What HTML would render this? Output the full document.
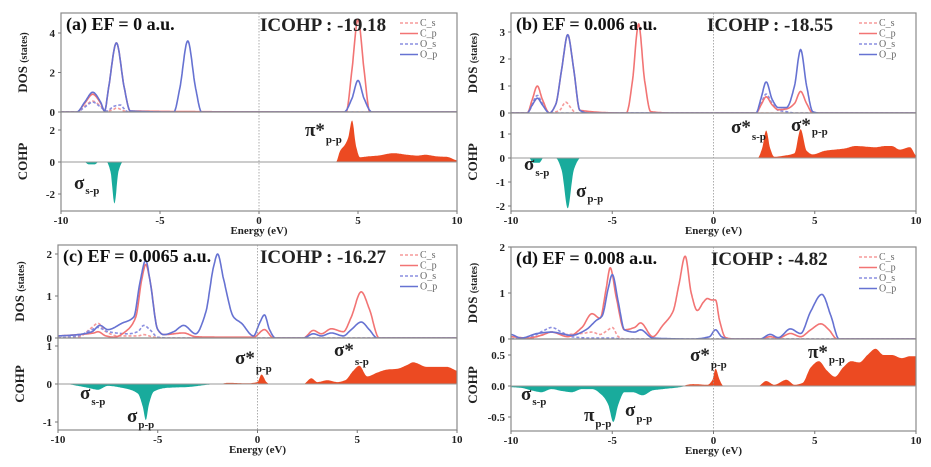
<!DOCTYPE html>
<html><head><meta charset="utf-8"><style>
body{margin:0;background:#fff;}
svg{display:block;font-family:"Liberation Serif",serif;}
</style></head><body>
<svg id="fig" width="931" height="467" viewBox="0 0 931 467" xmlns="http://www.w3.org/2000/svg"></svg>
<script>
// ---------- data (energy eV, value) ----------
const aCs=[[-10,0],[-9.2,0],[-8.8,0.3],[-8.4,0.55],[-8.0,0.3],[-7.7,0.05],[-7.4,0.1],[-7.2,0.2],[-6.8,0.05],[-6.5,0],[10,0]];
const aCp=[[-10,0],[-9.2,0],[-8.8,0.45],[-8.4,0.9],[-8.0,0.45],[-7.8,0.05],[-7.6,1.2],[-7.2,3.5],[-6.8,1.2],[-6.5,0.05],[4.4,0],[4.7,2.2],[5.0,4.7],[5.3,2.2],[5.6,0],[10,0]];
const aOs=[[-10,0],[-9.2,0],[-8.8,0.25],[-8.4,0.5],[-8.0,0.25],[-7.7,0.05],[-7.3,0.3],[-7.0,0.35],[-6.8,0.15],[-6.6,0],[10,0]];
const aOp=[[-10,0],[-9.2,0],[-8.8,0.5],[-8.4,1.0],[-8.0,0.5],[-7.8,0.05],[-7.6,1.2],[-7.2,3.5],[-6.8,1.2],[-6.5,0.05],[-4.3,0],[-4.0,1.2],[-3.6,3.6],[-3.2,1.2],[-2.9,0],[4.3,0],[4.7,0.7],[5.0,1.6],[5.3,0.7],[5.7,0],[10,0]];
const aNeg=[[-8.8,0],[-8.6,-0.15],[-8.3,-0.15],[-8.1,0],[-7.7,0],[-7.5,-0.6],[-7.3,-2.6],[-7.1,-0.6],[-6.9,0]];
const aPos=[[3.9,0],[4.1,0.7],[4.35,1.1],[4.5,1.5],[4.7,2.6],[4.9,1.0],[5.1,0.3],[5.5,0.35],[6.0,0.4],[6.8,0.55],[7.5,0.45],[8.0,0.4],[8.4,0.45],[9.0,0.35],[9.5,0.32],[10,0.1]];

const bCs=[[-10,0],[-9.2,0],[-8.9,0.35],[-8.7,0.55],[-8.4,0.3],[-8.1,0],[-7.6,0.1],[-7.3,0.4],[-7.0,0.15],[-6.8,0],[10,0]];
const bCp=[[-10,0],[-9.2,0],[-8.95,0.5],[-8.7,1.0],[-8.45,0.5],[-8.1,0],[-7.8,0.3],[-7.5,1.6],[-7.2,2.9],[-6.9,1.6],[-6.6,0.1],[-4.3,0],[-4.0,1.2],[-3.7,3.3],[-3.4,1.2],[-3.1,0.05],[-2,0],[2.1,0],[2.35,0.3],[2.6,0.6],[2.9,0.3],[3.2,0.12],[3.6,0.15],[4.0,0.35],[4.3,0.8],[4.6,0.35],[4.9,0],[10,0]];
const bOs=[[-10,0],[-9.2,0],[-8.95,0.35],[-8.7,0.65],[-8.45,0.35],[-8.1,0],[2.1,0],[2.35,0.35],[2.6,0.7],[2.9,0.35],[3.2,0.1],[3.6,0.05],[4.0,0],[10,0]];
const bOp=[[-10,0],[-9.2,0],[-8.95,0.3],[-8.7,0.55],[-8.45,0.3],[-8.1,0],[-7.8,0.3],[-7.5,1.6],[-7.2,2.9],[-6.9,1.6],[-6.6,0.1],[-6.2,0],[2.1,0],[2.35,0.55],[2.6,1.15],[2.9,0.5],[3.2,0.2],[3.6,0.2],[4.0,1.0],[4.3,2.35],[4.6,1.0],[4.9,0.05],[5.2,0],[10,0]];
const bNeg=[[-9.1,0],[-8.9,-0.2],[-8.6,-0.2],[-8.4,0],[-7.8,0],[-7.5,-0.5],[-7.2,-2.1],[-6.9,-0.5],[-6.6,0]];
const bPos=[[2.2,0],[2.4,0.4],[2.6,1.15],[2.8,0.4],[3.0,0.05],[3.5,0.1],[4.0,0.2],[4.3,1.2],[4.6,0.3],[4.9,0.15],[5.5,0.3],[6.5,0.4],[7.0,0.5],[8.0,0.45],[8.5,0.5],[8.8,0.5],[9.2,0.35],[9.7,0.45],[10,0.1]];

const cCs=[[-10,0],[-9,0.02],[-8.3,0.25],[-8.0,0.35],[-7.6,0.15],[-7,0.05],[-6,0.05],[-5.7,0.08],[-5.2,0.02],[-4.5,0],[10,0]];
const cCp=[[-10,0.05],[-9,0.08],[-8.2,0.12],[-8.0,0.15],[-7.6,0.05],[-7.2,0.02],[-6.5,0.2],[-6.1,0.5],[-5.8,1.4],[-5.6,1.75],[-5.4,1.4],[-5.0,0.2],[-4.7,0.08],[-3.7,0.12],[-3.1,0.03],[-2,0.02],[-0.2,0.02],[0.35,0.2],[0.8,0],[2.3,0],[2.8,0.18],[3.2,0.1],[3.7,0.22],[4.3,0.15],[4.7,0.5],[5.2,1.1],[5.6,0.7],[6.1,0],[10,0]];
const cOs=[[-10,0],[-9,0.05],[-8.3,0.2],[-8.0,0.25],[-7.5,0.15],[-6.5,0.1],[-6.0,0.15],[-5.7,0.3],[-5.4,0.2],[-5.0,0.02],[-4.5,0],[10,0]];
const cOp=[[-10,0.05],[-9,0.08],[-8.3,0.15],[-7.9,0.3],[-7.5,0.2],[-6.8,0.35],[-6.2,0.5],[-5.9,1.3],[-5.6,1.85],[-5.4,1.4],[-5.0,0.2],[-4.7,0.08],[-4.2,0.15],[-3.7,0.3],[-3.1,0.1],[-2.6,0.6],[-2.2,1.7],[-2.0,2.0],[-1.7,1.4],[-1.2,0.5],[-0.8,0.35],[-0.2,0.05],[0.1,0.35],[0.35,0.55],[0.6,0.2],[0.9,0],[2.3,0],[2.8,0.1],[3.2,0.05],[3.7,0.12],[4.3,0.05],[4.7,0.2],[5.2,0.38],[5.6,0.2],[6.0,0],[10,0]];
const cNeg=[[-9.6,0],[-9,-0.05],[-8.5,-0.1],[-8,-0.15],[-7.5,-0.05],[-6.8,-0.1],[-6.0,-0.25],[-5.75,-0.6],[-5.6,-0.95],[-5.45,-0.55],[-5.2,-0.2],[-4.5,-0.1],[-3.5,-0.08],[-2.5,-0.02],[-2.0,0]];
const cPos=[[-1.9,0],[-1.5,0.03],[-0.5,0.02],[0,0.05],[0.2,0.25],[0.45,0.05],[0.6,0],[2.3,0],[2.7,0.15],[3.0,0.05],[3.5,0.1],[4.0,0.05],[4.4,0.1],[4.8,0.35],[5.1,0.48],[5.5,0.2],[6.0,0.3],[6.5,0.38],[7.0,0.4],[7.5,0.5],[7.8,0.57],[8.5,0.45],[9.0,0.45],[9.5,0.45],[10,0.35]];

const dCs=[[-10,0],[-9,0.02],[-8.4,0.1],[-8.0,0.15],[-7.3,0.1],[-6.5,0.12],[-6.0,0.15],[-5.6,0.1],[-5.2,0.2],[-5.0,0.25],[-4.7,0.05],[-4.4,0],[10,0]];
const dCp=[[-10,0.05],[-9.2,0.02],[-8.5,0.08],[-8.0,0.15],[-7.2,0.05],[-6.5,0.25],[-6.0,0.55],[-5.6,0.45],[-5.3,1.1],[-5.1,1.55],[-4.8,0.9],[-4.4,0.2],[-3.9,0.25],[-3.6,0.35],[-3.0,0.05],[-2.5,0.3],[-2.0,0.6],[-1.7,1.2],[-1.4,1.8],[-1.1,1.0],[-0.8,0.62],[-0.5,0.8],[-0.3,0.88],[-0.1,0.85],[0.1,0.85],[0.3,0.4],[0.6,0.03],[1,0],[2.3,0],[2.8,0.05],[3.2,0.02],[3.8,0.12],[4.3,0.05],[4.8,0.2],[5.3,0.33],[5.7,0.2],[6.1,0],[10,0]];
const dOs=[[-10,0],[-9,0.05],[-8.4,0.18],[-8.0,0.25],[-7.5,0.15],[-7.0,0.05],[-6.0,0.02],[-5.0,0.02],[-4.5,0],[10,0]];
const dOp=[[-10,0.1],[-9.5,0.02],[-8.7,0.12],[-8.0,0.15],[-7.0,0.08],[-6.3,0.2],[-5.8,0.4],[-5.5,0.5],[-5.2,1.1],[-5.0,1.4],[-4.7,0.8],[-4.4,0.2],[-3.9,0.15],[-3.6,0.2],[-3.0,0.02],[-1.0,0],[-0.2,0.05],[0.1,0.2],[0.4,0.05],[0.7,0],[2.3,0],[2.8,0.1],[3.2,0.03],[3.8,0.22],[4.3,0.12],[4.8,0.6],[5.35,0.97],[5.8,0.5],[6.2,0],[10,0]];
const dNeg=[[-10,-0.02],[-9.5,-0.03],[-9,-0.07],[-8.5,-0.1],[-8,-0.05],[-7.5,-0.08],[-7,-0.1],[-6.5,-0.05],[-6,-0.05],[-5.5,-0.15],[-5.2,-0.3],[-4.95,-0.58],[-4.7,-0.3],[-4.4,-0.1],[-4,-0.1],[-3.5,-0.15],[-3.0,-0.07],[-2.5,-0.05],[-1.5,-0.01],[-1.4,0]];
const dPos=[[-1.5,0],[-1.3,0.02],[-1,0.03],[-0.3,0.02],[-0.05,0.1],[0.1,0.28],[0.3,0.1],[0.5,0],[2.2,0],[2.6,0.08],[3.0,0.02],[3.6,0.1],[4.0,0.02],[4.4,0.05],[4.8,0.3],[5.2,0.4],[5.6,0.25],[6.0,0.15],[6.4,0.3],[6.8,0.4],[7.2,0.38],[7.6,0.5],[8.0,0.6],[8.4,0.5],[8.8,0.5],[9.3,0.45],[9.7,0.48],[10,0.48]];

const xTicks=[-10,-5,0,5,10];
const aDosTicks=[0,2,4], aCohpTicks=[-2,0,2];
const bDosTicks=[0,1,2,3], bCohpTicks=[-2,-1,0,1];
const cDosTicks=[0,1,2], cCohpTicks=[-1,0,1];
const dDosTicks=[0,1,2], dCohpTicks=[-0.5,0,0.5];

const NS="http://www.w3.org/2000/svg";
const svg=document.getElementById('fig');
function el(tag,attrs,parent){const e=document.createElementNS(NS,tag);for(const k in attrs)e.setAttribute(k,attrs[k]);(parent||svg).appendChild(e);return e;}
// monotone cubic (PCHIP) sampling in data space -> no overshoot
function sample(pts){
 const n=pts.length,xs=pts.map(p=>p[0]),ys=pts.map(p=>p[1]);
 const h=[],dl=[];for(let i=0;i<n-1;i++){h.push(xs[i+1]-xs[i]);dl.push((ys[i+1]-ys[i])/h[i]);}
 const m=new Array(n).fill(0);
 for(let i=1;i<n-1;i++){if(dl[i-1]*dl[i]>0){const w1=2*h[i]+h[i-1],w2=h[i]+2*h[i-1];m[i]=(w1+w2)/(w1/dl[i-1]+w2/dl[i]);}}
 m[0]=n>1?dl[0]*0.5:0;m[n-1]=n>1?dl[n-2]*0.5:0;
 const out=[];
 for(let i=0;i<n-1;i++){const steps=Math.max(2,Math.ceil(h[i]/0.03));
  for(let k=0;k<steps;k++){const t=k/steps,t2=t*t,t3=t2*t;
   const y=(2*t3-3*t2+1)*ys[i]+(t3-2*t2+t)*h[i]*m[i]+(-2*t3+3*t2)*ys[i+1]+(t3-t2)*h[i]*m[i+1];
   out.push([xs[i]+t*h[i],y]);}}
 out.push([xs[n-1],ys[n-1]]);return out;}
function pathD(pts){return pts.map((p,i)=>(i?'L':'M')+p[0].toFixed(1)+','+p[1].toFixed(1)).join('');}

function panel(p){
 const g=el('g',{});
 
 
 const X=e=>p.x0+(e+10)/20*(p.x1-p.x0);
 const YD=v=>p.d0-v*p.dPx, YC=v=>p.c0-v*p.cPx;
 const series=[[p.cs,'#f59a9a','3,2','c-s'],[p.os,'#8a8ee0','3,2','o-s'],[p.cp,'#f27474',null,'c-p'],[p.op,'#6672d2',null,'o-p']];
 const clip='clip'+p.id;
 const cp=el('clipPath',{id:clip},g);el('rect',{x:p.x0,y:p.top,width:p.x1-p.x0,height:p.d0-p.top},cp);
 series.forEach(s=>{const a={d:pathD(sample(s[0]).map(q=>[X(q[0]),YD(q[1])])),fill:'none',stroke:s[1],'stroke-width':1.6,'stroke-linejoin':'round','clip-path':'url(#'+clip+')'};if(s[2])a['stroke-dasharray']=s[2];
  const pth=el('path',a,g);
  
  });
 [[p.neg,'#19ab9c','cohp-bonding-fill'],[p.pos,'#ec4a22','cohp-antibonding-fill']].forEach(f=>{
  const pts=sample(f[0]).map(q=>[X(q[0]),YC(q[1])]);
  const d=pathD(pts)+'L'+pts[pts.length-1][0].toFixed(1)+','+p.c0+'L'+pts[0][0].toFixed(1)+','+p.c0+'Z';
  const pth=el('path',{d:d,fill:f[1]},g);
  
  });
 el('rect',{x:p.x0,y:p.top,width:p.x1-p.x0,height:p.bottom-p.top,fill:'none',stroke:'#8a8a8a','stroke-width':1.2},g);
 el('line',{x1:p.x0,x2:p.x1,y1:p.d0,y2:p.d0,stroke:'#8a8a8a','stroke-width':1.2},g);
 el('line',{x1:p.x0,x2:p.x1,y1:p.c0,y2:p.c0,stroke:'#999','stroke-width':1},g);
 el('line',{x1:X(0),x2:X(0),y1:p.top,y2:p.bottom,stroke:'#999','stroke-width':0.8,'stroke-dasharray':'1.5,1.5'},g);
 xTicks.forEach(t=>{el('line',{x1:X(t),x2:X(t),y1:p.bottom,y2:p.bottom+3,stroke:'#777'},g);
  const tx=el('text',{x:X(t),y:p.bottom+13,'font-size':11,'font-weight':'bold','text-anchor':'middle',fill:'#222'},g);tx.textContent=t;
  });
 const xt=el('text',{x:(p.x0+p.x1)/2,y:p.bottom+23,'font-size':11,'font-weight':'bold','text-anchor':'middle',fill:'#222'},g);xt.textContent='Energy  (eV)';
 
 p.dT.forEach(t=>{el('line',{x1:p.x0-3,x2:p.x0,y1:YD(t),y2:YD(t),stroke:'#777'},g);
  const tx=el('text',{x:p.x0-6,y:YD(t)+4,'font-size':11,'font-weight':'bold','text-anchor':'end',fill:'#222'},g);tx.textContent=t;
  });
 p.cT.forEach(t=>{el('line',{x1:p.x0-3,x2:p.x0,y1:YC(t),y2:YC(t),stroke:'#777'},g);
  const tx=el('text',{x:p.x0-6,y:YC(t)+4,'font-size':11,'font-weight':'bold','text-anchor':'end',fill:'#222'},g);tx.textContent=p.fmt?t.toFixed(1):t;
  });
 const yl=el('text',{transform:'translate('+(p.x0-34)+','+((p.top+p.d0)/2)+') rotate(-90)','font-size':13,'font-weight':'bold','text-anchor':'middle',fill:'#222'},g);
 yl.innerHTML='DOS <tspan font-size="10">(states)</tspan>';
 
 const cl=el('text',{transform:'translate('+(p.x0-34)+','+((p.d0+p.bottom)/2)+') rotate(-90)','font-size':13,'font-weight':'bold','text-anchor':'middle',fill:'#222'},g);cl.textContent='COHP';
 
 const t1=el('text',{x:p.x0+5,y:p.top+17,'font-size':18,'font-weight':'bold',fill:'#111'},g);t1.textContent=p.title;
 
 const t2=el('text',{x:p.x0+p.icx,y:p.top+18,'font-size':19,'font-weight':'bold',fill:'#222'},g);t2.textContent='ICOHP : '+p.icohp;
 
 [['C_s','#f59a9a',1],['C_p','#f27474',0],['O_s','#8a8ee0',1],['O_p','#6672d2',0]].forEach((L,i)=>{
  const lg=el('g',{},g);
  const y=p.top+10+i*10.5;const a={x1:p.x1-57,x2:p.x1-39,y1:y,y2:y,stroke:L[1],'stroke-width':1.4};if(L[2])a['stroke-dasharray']='3,2';el('line',a,lg);
  const tx=el('text',{x:p.x1-37,y:y+3,'font-size':10,fill:'#666'},lg);tx.textContent=L[0];});
 p.ann.forEach(a=>{const tx=el('text',{x:a[0],y:a[1],'font-size':19,'font-weight':'bold',fill:'#222'},g);
  tx.innerHTML=a[2]+'<tspan font-size="11" dx="1" dy="'+a[4]+'">'+a[3]+'</tspan>';
  });
}
panel({id:'a',x0:61,x1:457,top:13,d0:112,dPx:19.75,c0:162,cPx:16,bottom:211,cs:aCs,cp:aCp,os:aOs,op:aOp,neg:aNeg,pos:aPos,dT:aDosTicks,cT:aCohpTicks,title:'(a) EF = 0 a.u.',icx:199,icohp:'-19.18',
 ann:[[305,136,'π*','p-p',7],[74,189,'σ','s-p',5]]});
panel({id:'b',x0:511,x1:916,top:13,d0:113,dPx:27,c0:158,cPx:24,bottom:211,cs:bCs,cp:bCp,os:bOs,op:bOp,neg:bNeg,pos:bPos,dT:bDosTicks,cT:bCohpTicks,title:'(b) EF = 0.006 a.u.',icx:196,icohp:'-18.55',
 ann:[[731,133,'σ*','s-p',7],[791,131,'σ*','p-p',4],[524,170,'σ','s-p',6],[576,197,'σ','p-p',5]]});
panel({id:'c',x0:58,x1:457,top:245,d0:338,dPx:42,c0:384,cPx:38,bottom:430,cs:cCs,cp:cCp,os:cOs,op:cOp,neg:cNeg,pos:cPos,dT:cDosTicks,cT:cCohpTicks,title:'(c) EF = 0.0065 a.u.',icx:202,icohp:'-16.27',
 ann:[[235,364,'σ*','p-p',8],[334,356,'σ*','s-p',9],[80,399,'σ','s-p',6],[127,422,'σ','p-p',6]]});
panel({id:'d',x0:511,x1:916,top:247,d0:339,dPx:46,c0:386,cPx:62,bottom:431,cs:dCs,cp:dCp,os:dOs,op:dOp,neg:dNeg,pos:dPos,dT:dDosTicks,cT:dCohpTicks,fmt:1,title:'(d)  EF = 0.008 a.u.',icx:200,icohp:'-4.82',
 ann:[[690,361,'σ*','p-p',7],[808,358,'π*','p-p',5],[521,400,'σ','s-p',5],[584,421,'π','p-p',6],[625,416,'σ','p-p',6]]});
</script>
</body></html>
